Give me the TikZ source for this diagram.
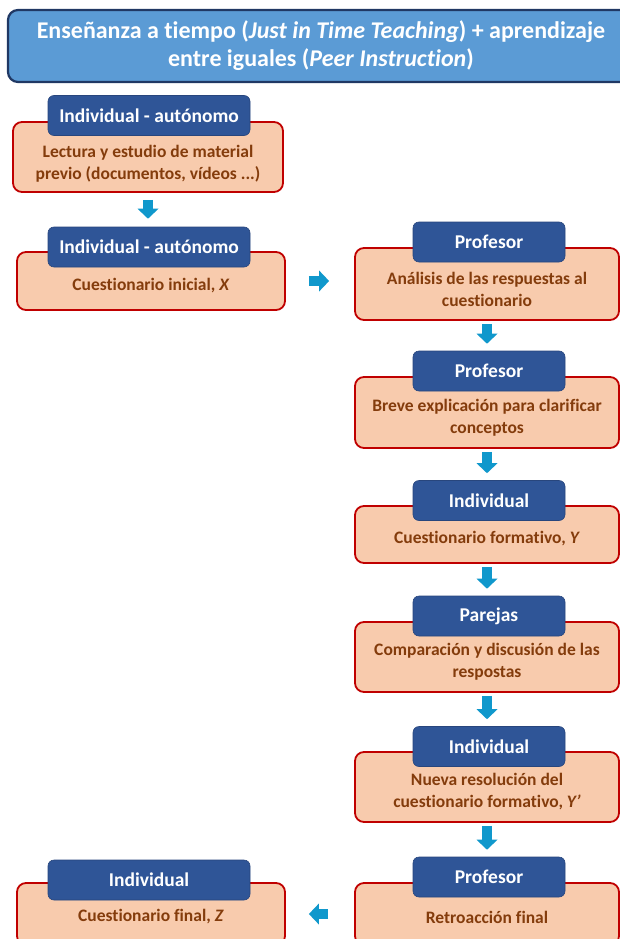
\documentclass[tikz,border=0pt]{standalone}
\usepackage{fontspec}
\setmainfont{Carlito}[Ligatures=NoCommon]
\usetikzlibrary{arrows.meta}
\definecolor{titlefill}{RGB}{91,155,213}
\definecolor{titledraw}{RGB}{32,56,100}
\definecolor{rolefill}{RGB}{47,85,151}
\definecolor{roledraw}{RGB}{40,70,125}
\definecolor{stagefill}{RGB}{248,203,173}
\definecolor{stagedraw}{RGB}{192,0,0}
\definecolor{stageink}{RGB}{132,60,12}
\definecolor{flowblue}{RGB}{16,152,204}
\tikzset{
  titlebox/.style={draw=titledraw, line width=2.2pt, fill=titlefill, rounded corners=10pt,
    text=white, align=center, font=\fontsize{24}{28}\selectfont\bfseries},
  stagebox/.style={draw=stagedraw, line width=1.8pt, fill=stagefill, rounded corners=9pt, inner sep=0pt},
  stagetext/.style={text=stageink, align=center, font=\fontsize{17.5}{22}\selectfont\bfseries},
  rolebox/.style={draw=roledraw, line width=0.6pt, fill=rolefill, rounded corners=6pt,
    minimum height=40, inner sep=0pt, text=white, font=\fontsize{19.5}{22}\selectfont\bfseries},
  flowarrow/.style={draw=flowblue, line width=10pt,
    -{Triangle[width=21pt,length=10pt,line width=0pt]}},
}
\begin{document}
\begin{tikzpicture}[x=1pt,y=-1pt]
  \useasboundingbox (0,0) rectangle (620,939);
  \clip (0,0) rectangle (620,939);
  \fill[white] (0,0) rectangle (620,939);

  % title
  \node[titlebox, minimum width=626, minimum height=72] (title) at (321,46)
    {Enseñanza a tiempo (\textit{Just in Time Teaching}) + aprendizaje\\entre iguales (\textit{Peer Instruction})};

  % left column
  \node[stagebox, minimum width=270, minimum height=70] (lect) at (148,157) {};
  \node[stagetext] (lecttx) at (148,164) {Lectura y estudio de material\\previo (documentos, vídeos ...)};
  \node[rolebox, minimum width=202] (lectrole) at (149,115.5) {Individual - autónomo};

  \node[stagebox, minimum width=268, minimum height=58] (cini) at (151,281) {};
  \node[stagetext] (cinitx) at (151,286) {Cuestionario inicial, \textit{X}};
  \node[rolebox, minimum width=202] (cinirole) at (149,247) {Individual - autónomo};

  % right column
  \node[stagebox, minimum width=264, minimum height=72] (anal) at (487,284) {};
  \node[stagetext] (analtx) at (487,289) {Análisis de las respuestas al\\cuestionario};
  \node[rolebox, minimum width=152] (analrole) at (489,242) {Profesor};

  \node[stagebox, minimum width=264, minimum height=71] (expl) at (487,412.5) {};
  \node[stagetext] (expltx) at (487,418) {Breve explicación para clarificar\\conceptos};
  \node[rolebox, minimum width=152] (explrole) at (489,371) {Profesor};

  \node[stagebox, minimum width=264, minimum height=57] (cform) at (487,534.5) {};
  \node[stagetext] (cformtx) at (487,539) {Cuestionario formativo, \textit{Y}};
  \node[rolebox, minimum width=152] (cformrole) at (489,500.5) {Individual};

  \node[stagebox, minimum width=264, minimum height=70] (comp) at (487,657) {};
  \node[stagetext] (comptx) at (487,662) {Comparación y discusión de las\\respostas};
  \node[rolebox, minimum width=152] (comprole) at (489,616) {Parejas};

  \node[stagebox, minimum width=264, minimum height=70] (nueva) at (487,787) {};
  \node[stagetext] (nuevatx) at (487,792) {Nueva resolución del\\cuestionario formativo, \textit{Y’}};
  \node[rolebox, minimum width=152] (nuevarole) at (489,746.5) {Individual};

  \node[stagebox, minimum width=264, minimum height=62] (retro) at (487,914) {};
  \node[stagetext] (retrotx) at (487,917) {Retroacción final};
  \node[rolebox, minimum width=152] (retrorole) at (489,877) {Profesor};

  % final test, back on the left
  \node[stagebox, minimum width=268, minimum height=62] (cfin) at (151,914) {};
  \node[stagetext] (cfintx) at (151,917) {Cuestionario final, \textit{Z}};
  \node[rolebox, minimum width=202] (cfinrole) at (149,880) {Individual};

  % arrows
  \draw[flowarrow, shorten <=7pt, shorten >=8pt] (lect.south) -- (lect.south |- cinirole.north);
  \draw[flowarrow, shorten <=23pt, shorten >=25pt] (cini.east) -- (cini.east -| anal.west);
  \draw[flowarrow, shorten <=3pt, shorten >=7pt] (anal.south) -- (anal.south |- explrole.north);
  \draw[flowarrow, shorten <=3pt, shorten >=7pt] (expl.south) -- (expl.south |- cformrole.north);
  \draw[flowarrow, shorten <=3pt, shorten >=7pt] (cform.south) -- (cform.south |- comprole.north);
  \draw[flowarrow, shorten <=3pt, shorten >=7pt] (comp.south) -- (comp.south |- nuevarole.north);
  \draw[flowarrow, shorten <=3pt, shorten >=7pt] (nueva.south) -- (nueva.south |- retrorole.north);
  \draw[flowarrow, shorten <=26pt, shorten >=23pt] (retro.west) -- (retro.west -| cfin.east);
\end{tikzpicture}
\end{document}
